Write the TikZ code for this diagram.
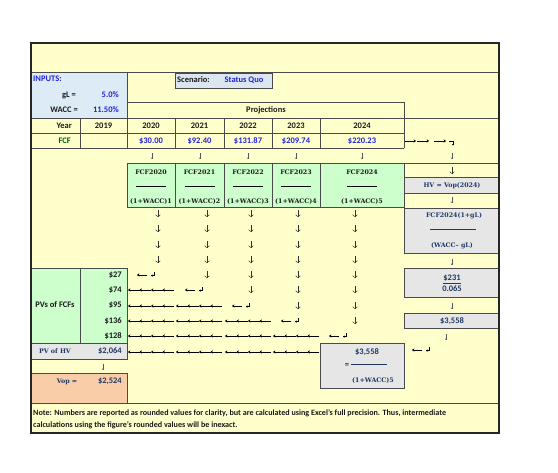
\documentclass[tikz,border=0pt]{standalone}
\usepackage{fontspec}
\setmainfont{Carlito}
\newfontfamily\srf{DejaVu Serif}
\usetikzlibrary{arrows.meta}
\definecolor{yel}{HTML}{FFFFCC}
\definecolor{inblue}{HTML}{DDEBF7}
\definecolor{scen}{HTML}{DCE6F1}
\definecolor{grn}{HTML}{CCFFCC}
\definecolor{gry}{HTML}{E6E6E6}
\definecolor{org}{HTML}{F9CDA8}
\definecolor{blu}{HTML}{2222DD}
\definecolor{navy}{HTML}{1F3864}
\definecolor{dkgrn}{HTML}{006100}
\definecolor{txt}{HTML}{1A1A1A}
\definecolor{lc}{HTML}{4A4A4A}
\newcommand{\ThinDn}[2]{\draw[thinarr] (#1,#2-3) -- (#1,#2+3);}
\newcommand{\ThickDn}[2]{\draw[thickarr] (#1,#2-3.5) -- (#1,#2+3.2);}
\newcommand{\ShortLeft}[2]{%
  \draw[larr] (#1+10,#2) -- (#1,#2);
  \draw[retarr] (#1+17,#2-2.5) -- (#1+17,#2+0.6) -- (#1+14,#2+0.6);}
\newcommand{\LongLeft}[2]{%
  \foreach \i in {0,...,3}{\draw[larr] ({#1+1+11.5*(\i+1)},#2) -- ({#1+1+11.5*\i},#2);}}
\begin{document}
\begin{tikzpicture}[x=1pt,y=-1pt,
  sn/.style={font=\fontsize{8.5}{9}\selectfont\bfseries, inner sep=0pt, text height=5.5pt, text depth=0pt, text=txt},
  sr/.style={font=\srf\fontsize{6.3}{7}\selectfont\bfseries, inner sep=0pt, text height=4.6pt, text depth=0pt, text=navy},
  ln/.style={draw=lc, line width=0.9pt},
  thinarr/.style={draw=black!65, line width=0.4pt, -{To[length=1.6pt,width=2.4pt]}},
  thickarr/.style={draw=black!80, line width=0.5pt, -{Straight Barb[length=2.2pt,width=4.6pt]}},
  larr/.style={draw=black, line width=0.6pt, -{Stealth[length=2.4pt,width=3.4pt]}},
  retarr/.style={draw=black, line width=0.45pt, -{Stealth[length=1.5pt,width=2.3pt]}},
  rarr/.style={draw=black, line width=0.6pt, -{Stealth[length=2.4pt,width=3.4pt]}},
  dashln/.style={draw=black, line width=0.8pt}]
\useasboundingbox (0,0) rectangle (558,473);
% background
\fill[yel] (31,43) rectangle (499,433);
% fills
\fill[inblue] (31,72) rectangle (127,118);
\filldraw[fill=scen, ln] (175,73) rectangle (272,88);
\filldraw[fill=grn, ln] (127,163) rectangle (404,207);
\foreach \xx in {175,224,272,320} \draw[ln] (\xx,163) -- (\xx,207);
\filldraw[fill=gry, ln] (404,177) rectangle (499,193);
\filldraw[fill=gry, ln] (404,208) rectangle (499,253);
\filldraw[fill=gry, ln] (404,268) rectangle (499,297);
\filldraw[fill=gry, ln] (404,313) rectangle (499,328);
\filldraw[fill=gry, ln] (320,343) rectangle (404,388);
\filldraw[fill=grn, ln] (31,268) rectangle (127,343);
\draw[ln] (80,268) -- (80,343);
\filldraw[fill=gry, ln] (31,343) rectangle (127,359);
\filldraw[fill=org, ln] (31,373) rectangle (127,403);
% grid lines
\draw[ln] (31,72) -- (499,72);
\draw[ln] (127,72) -- (127,148);
\draw[ln] (127,102) -- (404,102) -- (404,148);
\draw[ln] (31,118) -- (499,118);
\draw[ln] (31,133) -- (404,133);
\draw[ln] (31,148) -- (404,148);
\foreach \xx in {80,175,224,272,320} \draw[ln] (\xx,118) -- (\xx,148);
\draw[ln] (404,163) -- (499,163);
\draw[ln] (31,403) -- (499,403);
\draw[draw=black!85, line width=1.3pt] (31,43) rectangle (499,433);
% inputs
\node[sn, text=blu, anchor=west] (inp) at (33,79) {INPUTS:};
\node[sn, anchor=east] (gl) at (76,95) {gL =};
\node[sn, text=blu, anchor=east] (glv) at (119,95) {5.0\%};
\node[sn, anchor=east] (wacc) at (78,110) {WACC =};
\node[sn, text=blu, anchor=east] (waccv) at (119,110) {11.50\%};
\node[sn, anchor=west] (scn) at (177,80) {Scenario:};
\node[sn, text=blu] (sq) at (244,80) {Status Quo};
\node[sn] (proj) at (266,110) {Projections};
% year row
\node[sn, anchor=east] (yr) at (72,126) {Year};
\node[sn] (y19) at (103.5,126) {2019};
\node[sn] (y20) at (151,126) {2020};
\node[sn] (y21) at (199.5,126) {2021};
\node[sn] (y22) at (248,126) {2022};
\node[sn] (y23) at (296,126) {2023};
\node[sn] (y24) at (362,126) {2024};
\node[sn, text=dkgrn, anchor=east] (fcf) at (71,141) {FCF};
\node[sn, text=blu] (f20) at (151,141) {\$30.00};
\node[sn, text=blu] (f21) at (199.5,141) {\$92.40};
\node[sn, text=blu] (f22) at (248,141) {\$131.87};
\node[sn, text=blu] (f23) at (296,141) {\$209.74};
\node[sn, text=blu] (f24) at (362,141) {\$220.23};
% green discount boxes
\foreach \cx/\yy/\n in {151/2020/1,199.5/2021/2,248/2022/3,296/2023/4,362/2024/5}{
  \node[sr, text=txt] (g\n a) at (\cx,172) {FCF\yy};
  \draw[dashln] (\cx-15,186) -- (\cx+15,186);
  \node[sr, text=txt] (g\n b) at (\cx,201) {(1+WACC)\n};
}
% right column
\node[sr] (hv) at (452,185) {HV = Vop(2024)};
\node[sr] (hvn) at (454,215) {FCF2024(1+gL)};
\draw[dashln, navy] (430,229) -- (476,229);
\node[sr] (hvd) at (452,245) {(WACC– gL)};
\node[sn, text=navy] (v231) at (452,278) {\underline{\$231}};
\node[sn, text=navy] (v065) at (452,289) {0.065};
\node[sn, text=navy] (v3558) at (452,321) {\$3,558};
% PV of HV box
\node[sn, text=navy] (p3558) at (367,352) {\$3,558};
\node[sn, text=navy] (peq) at (347,365) {=};
\draw[dashln, navy] (351,364.5) -- (387,364.5);
\node[sr] (pden) at (373,380) {(1+WACC)5};
% left PV block
\node[sn] (pvs) at (55,305) {PVs of FCFs};
\node[sn, anchor=east] (pv1) at (122,275) {\$27};
\node[sn, anchor=east] (pv2) at (122,290) {\$74};
\node[sn, anchor=east] (pv3) at (122,305) {\$95};
\node[sn, anchor=east] (pv4) at (122,321) {\$136};
\node[sn, anchor=east] (pv5) at (122,336) {\$128};
\node[sr] (pvhv) at (55,351) {PV of HV};
\node[sn, text=navy, anchor=east] (pvhvv) at (122,351) {\$2,064};
\node[sr] (vop) at (67,381) {Vop =};
\node[sn, text=navy, anchor=east] (vopv) at (122,381) {\$2,524};
% note
\node[sn, font=\fontsize{8.1}{9}\selectfont\bfseries, anchor=west] (note1) at (33,413) {Note: Numbers are reported as rounded values for clarity, but are calculated using Excel's full precision. Thus, intermediate};
\node[sn, font=\fontsize{8.1}{9}\selectfont\bfseries, anchor=west] (note2) at (33,425) {calculations using the figure's rounded values will be inexact.};
% arrows: thin downs
\foreach \xx in {152,200,248,296,362,452} {\ThinDn{\xx}{156}}
\ThinDn{452}{200}
\ThinDn{452}{262}
\ThinDn{452}{306}
\ThinDn{446}{337}
\ThinDn{103}{367}
\ThickDn{452}{171}
% column downs
\foreach \yy in {214,229,245,260} {\ThickDn{158}{\yy}}
\foreach \yy in {214,229,245,260,275} {\ThickDn{207}{\yy}}
\foreach \yy in {214,229,245,260,275,290} {\ThickDn{251}{\yy}}
\foreach \yy in {214,229,245,260,275,290,306} {\ThickDn{298}{\yy}}
\foreach \yy in {214,229,245,260,275,290,306,321} {\ThickDn{355}{\yy}}
% leftward arrows
\ShortLeft{137}{275}
\ShortLeft{185}{290}
\ShortLeft{232}{306}
\ShortLeft{281}{321}
\ShortLeft{329}{336}
\ShortLeft{412}{350}
\LongLeft{127}{290}
\foreach \L in {127,175} {\LongLeft{\L}{306}}
\foreach \L in {127,175,224} {\LongLeft{\L}{321}}
\foreach \L in {127,175,224,272} {\LongLeft{\L}{336}}
\foreach \L in {127,175,224,272} {\LongLeft{\L}{352}}
% rightward arrows at top
\draw[rarr] (404.5,141) -- (416,141);
\draw[rarr] (417,141) -- (429,141);
\draw[rarr] (434,141) -- (446,141);
\draw[retarr] (449,141) -- (453,141) -- (453,145.5);
\end{tikzpicture}
\end{document}
